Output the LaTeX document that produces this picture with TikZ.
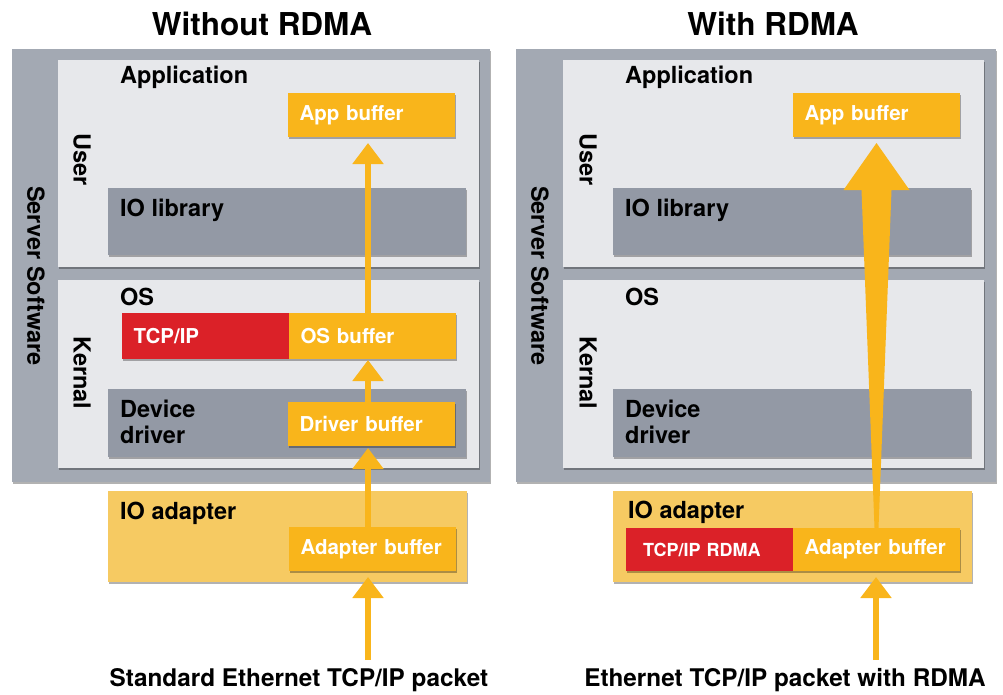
\documentclass[tikz,border=0pt]{standalone}
\usepackage{fontspec}
\setmainfont{TeX Gyre Heros}
\usetikzlibrary{arrows.meta,shadows,calc}

\definecolor{servergrey}{HTML}{A3A9B3}
\definecolor{layerbg}{HTML}{E7E8EB}
\definecolor{modgrey}{HTML}{9399A5}
\definecolor{bufamber}{HTML}{F9B51B}
\definecolor{adapteramber}{HTML}{F6CA62}
\definecolor{stackred}{HTML}{DB2128}

\newcommand\ttlfont{\fontsize{31.5}{36}\selectfont\bfseries}
\newcommand\lblfont{\fontsize{23.5}{26}\selectfont\bfseries}
\newcommand\buffont{\fontsize{20.5}{24}\selectfont\bfseries}
\newcommand\rdmafont{\fontsize{18}{22}\selectfont\bfseries}
\newcommand\pktfont{\fontsize{24.3}{28}\selectfont\bfseries}

\begin{document}
\begin{tikzpicture}[x=1pt,y=-1pt,
  panel/.style={anchor=north west, inner sep=0pt, outer sep=0pt,
    general shadow={fill=black, opacity=.3, shadow xshift=1.2pt, shadow yshift=-1.6pt}},
  server/.style={panel, fill=servergrey, minimum width=478pt, minimum height=433pt},
  layer/.style={panel, fill=layerbg, minimum width=421pt},
  module/.style={panel, fill=modgrey, minimum width=358pt},
  adapter/.style={panel, fill=adapteramber, minimum width=359pt, minimum height=91pt},
  buffer/.style={panel, fill=bufamber, text=white, font=\buffont, inner xsep=11.5pt,
    text width=144pt, minimum height=44pt, align=left},
  stack/.style={buffer, fill=stackred},
  lbl/.style={anchor=base west, inner sep=0pt, font=\lblfont},
  side/.style={rotate=-90, inner sep=0pt, font=\lblfont},
  title/.style={font=\ttlfont},
  packet/.style={font=\pktfont},
  flow/.style={draw=bufamber, line width=5.5pt, -{Triangle[width=30pt,length=21pt]}}]

\useasboundingbox (0,0) rectangle (1003,694);

% ---------------- Without RDMA ----------------
\node[title] (titleL) at (262,24) {Without RDMA};

% Server software with its two layers
\node[server] (serverL) at (12,49) {};
\node[layer, minimum height=207pt] (userL) at (58,60) {};
\node[layer, minimum height=188pt] (kernelL) at (58,280) {};
\node[side] (swL) at (36,276) {Server Software};
\node[side] (usrL) at (82,160) {User};
\node[side] (krnL) at (82,373) {Kernal};

% User space
\node[lbl] (appL) at (120,83) {Application};
\node[buffer] (appbufL) at (288,93) {App buffer};
\node[module, minimum height=67pt] (iolibL) at (108,188) {};
\node[lbl] (iolibtxtL) at (120,216) {IO library};

% Kernel space
\node[lbl] (osL) at (120,305) {OS};
\node[stack, minimum height=46pt] (tcpL) at (122,313) {TCP/IP};
\node[buffer, minimum height=46pt] (osbufL) at (tcpL.north east) {OS buffer};
\node[module, minimum height=68pt] (drvL) at (108,389) {};
\node[lbl, anchor=west, align=left] (drvtxtL) at (120,422) {Device\\driver};
\node[buffer] (drvbufL) at (288,402) {Driver buffer};

% Network card
\node[adapter] (adL) at (108,491) {};
\node[lbl] (adtxtL) at (120,519) {IO adapter};
\node[buffer] (adbufL) at (289,527) {Adapter buffer};

\node[packet] (pktL) at (299,680) {Standard Ethernet TCP/IP packet};
\coordinate (srcL) at (368,660);

% packet copied through every buffer
\draw[flow, shorten >=6pt] (srcL) -- (srcL |- adbufL.south);
\draw[flow, shorten >=2pt] (srcL |- adbufL.north) -- (srcL |- drvbufL.south);
\draw[flow, shorten >=1pt] (srcL |- drvbufL.north) -- (srcL |- osbufL.south);
\draw[flow, shorten >=6pt] (srcL |- osbufL.north) -- (srcL |- appbufL.south);

% ---------------- With RDMA ----------------
\begin{scope}[xshift=505pt]
\node[title] (titleR) at (268,24) {With RDMA};

\node[server, minimum width=480pt] (serverR) at (11,49) {};
\node[layer, minimum height=207pt] (userR) at (58,60) {};
\node[layer, minimum height=188pt] (kernelR) at (58,280) {};
\node[side] (swR) at (35,276) {Server Software};
\node[side] (usrR) at (83,160) {User};
\node[side] (krnR) at (83,373) {Kernal};

\node[lbl] (appR) at (120,83) {Application};
\node[buffer] (appbufR) at (288,93) {App buffer};
\node[module, minimum height=67pt] (iolibR) at (108,188) {};
\node[lbl] (iolibtxtR) at (120,216) {IO library};

\node[lbl] (osR) at (120,305) {OS};
\node[module, minimum height=68pt] (drvR) at (108,389) {};
\node[lbl, anchor=west, align=left] (drvtxtR) at (120,422) {Device\\driver};

\node[adapter] (adR) at (108,491) {};
\node[lbl] (adtxtR) at (123,518) {IO adapter};
\node[stack, font=\rdmafont, inner xsep=17pt, text width=133pt, minimum height=43pt] (tcpR) at (121,528) {TCP/IP RDMA};
\node[buffer, minimum height=43pt] (adbufR) at (tcpR.north east) {Adapter buffer};

\node[packet] (pktR) at (280,680) {Ethernet TCP/IP packet with RDMA};
\coordinate (srcR) at (371,660);

\draw[flow, shorten >=6pt] (srcR) -- (srcR |- adbufR.south);

% one direct transfer, adapter straight into the app buffer
\fill[bufamber] ($(adbufR.north)+(-2,0)$) -- ($(appbufR.south)+(-15,53)$)
  -- ($(appbufR.south)+(-33,53)$) -- ($(appbufR.south)+(0,6)$)
  -- ($(appbufR.south)+(33,53)$) -- ($(appbufR.south)+(15,53)$)
  -- ($(adbufR.north)+(2,0)$) -- cycle;
\end{scope}

\end{tikzpicture}
\end{document}
